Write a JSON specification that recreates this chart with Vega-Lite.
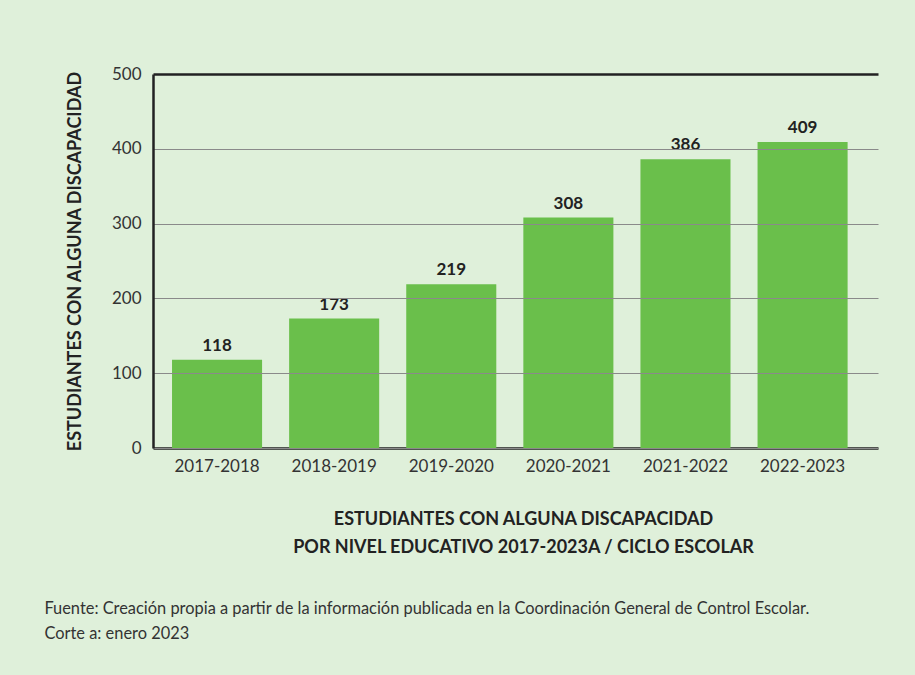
{
  "$schema": "https://vega.github.io/schema/vega-lite/v6.json",
  "width": 725,
  "height": 374,
  "autosize": {"type": "none"},
  "padding": {"left": 153, "top": 74, "right": 37, "bottom": 227},
  "background": "#dff0da",
  "config": {
    "view": {"stroke": null},
    "font": "Lato"
  },
  "title": {
    "text": ["Fuente: Creación propia a partir de la información publicada en la Coordinación General de Control Escolar.", "Corte a: enero 2023"],
    "orient": "bottom",
    "anchor": "start",
    "frame": "bounds",
    "font": "Lato",
    "fontSize": 16.4,
    "fontWeight": "normal",
    "color": "#333333",
    "lineHeight": 25,
    "offset": 45,
    "dx": -22
  },
  "data": {
    "values": [
      {"ciclo": "2017-2018", "estudiantes": 118},
      {"ciclo": "2018-2019", "estudiantes": 173},
      {"ciclo": "2019-2020", "estudiantes": 219},
      {"ciclo": "2020-2021", "estudiantes": 308},
      {"ciclo": "2021-2022", "estudiantes": 386},
      {"ciclo": "2022-2023", "estudiantes": 409}
    ]
  },
  "encoding": {
    "x": {
      "field": "ciclo",
      "type": "nominal",
      "sort": null,
      "scale": {"paddingInner": 0.231, "paddingOuter": 0.211, "align": 0.385},
      "axis": {
        "title": ["ESTUDIANTES CON ALGUNA DISCAPACIDAD", "POR NIVEL EDUCATIVO 2017-2023A / CICLO ESCOLAR"],
        "titleFont": "Lato",
        "titleFontSize": 18,
        "titleFontWeight": "bold",
        "titleColor": "#222222",
        "titleLineHeight": 28,
        "titlePadding": 36,
        "titleX": 370,
        "labelAngle": 0,
        "labelFontSize": 17,
        "labelColor": "#333333",
        "labelPadding": 10,
        "ticks": false,
        "domainColor": "#222222",
        "domainWidth": 2.5
      }
    },
    "y": {
      "field": "estudiantes",
      "type": "quantitative",
      "scale": {"domain": [0, 500]},
      "axis": {
        "values": [0, 100, 200, 300, 400, 500],
        "title": "ESTUDIANTES CON ALGUNA DISCAPACIDAD",
        "titleFont": "Lato",
        "titleFontSize": 18,
        "titleFontWeight": "bold",
        "titleColor": "#222222",
        "titlePadding": 27,
        "labelFontSize": 17,
        "labelColor": "#333333",
        "labelPadding": 12,
        "ticks": false,
        "domainColor": "#222222",
        "domainWidth": 2.5,
        "grid": true,
        "gridColor": {"condition": {"test": "datum.value === 500", "value": "#222222"}, "value": "#8a8a8a"},
        "gridWidth": {"condition": {"test": "datum.value === 500", "value": 2.5}, "value": 1},
        "zindex": 1
      }
    }
  },
  "layer": [
    {"mark": {"type": "bar", "color": "#6abf4b"}},
    {
      "mark": {"type": "text", "dy": -14, "fontSize": 17, "fontWeight": "bold", "color": "#222222", "font": "Lato"},
      "encoding": {"text": {"field": "estudiantes", "type": "quantitative"}}
    }
  ]
}
